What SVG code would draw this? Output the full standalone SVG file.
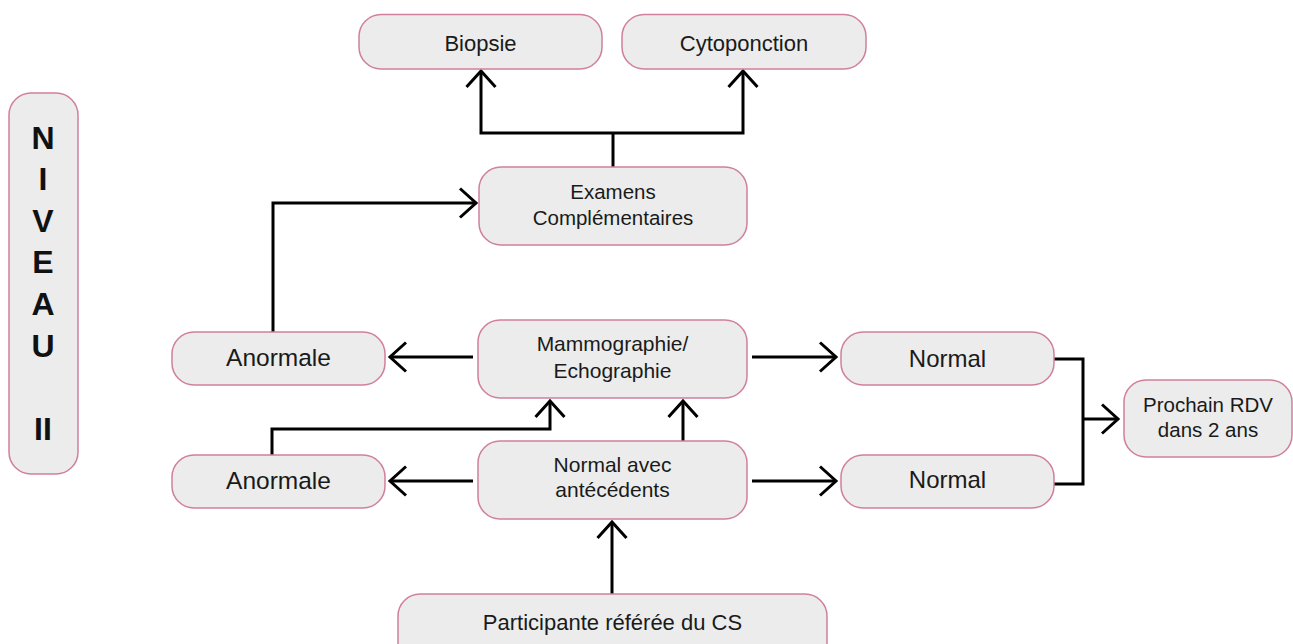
<svg xmlns="http://www.w3.org/2000/svg" width="1293" height="644" viewBox="0 0 1293 644">
  <style>
    .box { fill: #ebeceb; stroke: #d17f9f; stroke-width: 1.5; }
    .lbl { font-family: "Liberation Sans", Arial, sans-serif; fill: #1a1a1a; text-anchor: middle; }
    .lvl { font-family: "Liberation Sans", Arial, sans-serif; font-weight: bold; font-size: 32px; fill: #111; text-anchor: middle; }
    .wire { fill: none; stroke: #000; stroke-width: 3; }
    .arrow { fill: none; stroke: #000; stroke-width: 3; marker-end: url(#chev); }
  </style>
  <defs>
    <marker id="chev" markerUnits="userSpaceOnUse" markerWidth="40" markerHeight="40" viewBox="-20 -20 40 40" refX="0" refY="0" orient="auto" overflow="visible">
      <path d="M-16,-14.5 L0,0 L-16,14.5" fill="none" stroke="#000" stroke-width="3" stroke-linejoin="miter"/>
    </marker>
  </defs>
  <rect width="1293" height="644" fill="#fff"/>

  <!-- level banner -->
  <g id="niveau">
    <rect class="box" x="9" y="93" width="69" height="381" rx="22"/>
    <text class="lvl" x="43" y="149">N</text>
    <text class="lvl" x="43" y="190">I</text>
    <text class="lvl" x="43" y="232">V</text>
    <text class="lvl" x="43" y="273">E</text>
    <text class="lvl" x="43" y="315">A</text>
    <text class="lvl" x="43" y="357">U</text>
    <text class="lvl" x="43" y="440">II</text>
  </g>

  <!-- connectors -->
  <g id="connectors">
    <!-- Examens -> Biopsie / Cytoponction -->
    <path class="wire" d="M613,167 V133"/>
    <path class="arrow" d="M613,133 H481 V71"/>
    <path class="arrow" d="M613,133 H743 V71"/>
    <!-- Anormale (top) -> Examens -->
    <path class="arrow" d="M273,332 V203 H476"/>
    <!-- Mammographie -> Anormale / Normal -->
    <path class="arrow" d="M473,357 H390"/>
    <path class="arrow" d="M752,357 H836"/>
    <!-- Normal avec antécédents -> Anormale / Normal / Mammographie -->
    <path class="arrow" d="M473,481 H390"/>
    <path class="arrow" d="M752,481 H836"/>
    <path class="arrow" d="M683,441 V401"/>
    <!-- Anormale (bottom) -> Mammographie -->
    <path class="arrow" d="M272,455 V429 H550 V401"/>
    <!-- Participante -> Normal avec antécédents -->
    <path class="arrow" d="M612,594 V522"/>
    <!-- Normal -> Prochain RDV -->
    <path class="wire" d="M1054,359 H1083 V484 H1054"/>
    <path class="arrow" d="M1083,419 H1118"/>
  </g>

  <g id="biopsie">
    <rect class="box" x="359" y="14.5" width="243" height="54.5" rx="22"/>
    <text class="lbl" x="480.5" y="51" font-size="22">Biopsie</text>
  </g>
  <g id="cytoponction">
    <rect class="box" x="622" y="14.5" width="244" height="54.5" rx="22"/>
    <text class="lbl" x="744" y="51" font-size="22">Cytoponction</text>
  </g>
  <g id="examens">
    <rect class="box" x="479" y="167" width="268" height="78" rx="22"/>
    <text class="lbl" x="613" y="199" font-size="20.5">Examens</text>
    <text class="lbl" x="613" y="225" font-size="20.5">Complémentaires</text>
  </g>
  <g id="anormale-1">
    <rect class="box" x="172" y="332" width="213" height="53" rx="22"/>
    <text class="lbl" x="278.5" y="366" font-size="24.5">Anormale</text>
  </g>
  <g id="mammographie">
    <rect class="box" x="478" y="320" width="269" height="78" rx="22"/>
    <text class="lbl" x="612.5" y="351" font-size="21">Mammographie/</text>
    <text class="lbl" x="612.5" y="378" font-size="21">Echographie</text>
  </g>
  <g id="normal-1">
    <rect class="box" x="841" y="332" width="213" height="53" rx="22"/>
    <text class="lbl" x="947.5" y="367" font-size="24">Normal</text>
  </g>
  <g id="prochain-rdv">
    <rect class="box" x="1124" y="380" width="168" height="77" rx="22"/>
    <text class="lbl" x="1208" y="412" font-size="20.5">Prochain RDV</text>
    <text class="lbl" x="1208" y="437" font-size="20.5">dans 2 ans</text>
  </g>
  <g id="anormale-2">
    <rect class="box" x="172" y="455" width="213" height="53" rx="22"/>
    <text class="lbl" x="278.5" y="489" font-size="24.5">Anormale</text>
  </g>
  <g id="normal-antecedents">
    <rect class="box" x="478" y="441" width="269" height="78" rx="22"/>
    <text class="lbl" x="612.5" y="472" font-size="21">Normal avec</text>
    <text class="lbl" x="612.5" y="497" font-size="21">antécédents</text>
  </g>
  <g id="normal-2">
    <rect class="box" x="841" y="455" width="213" height="53" rx="22"/>
    <text class="lbl" x="947.5" y="488" font-size="24">Normal</text>
  </g>
  <g id="participante">
    <rect class="box" x="398" y="594" width="429" height="80" rx="22"/>
    <text class="lbl" x="612.5" y="630" font-size="22">Participante référée du CS</text>
  </g>
</svg>
